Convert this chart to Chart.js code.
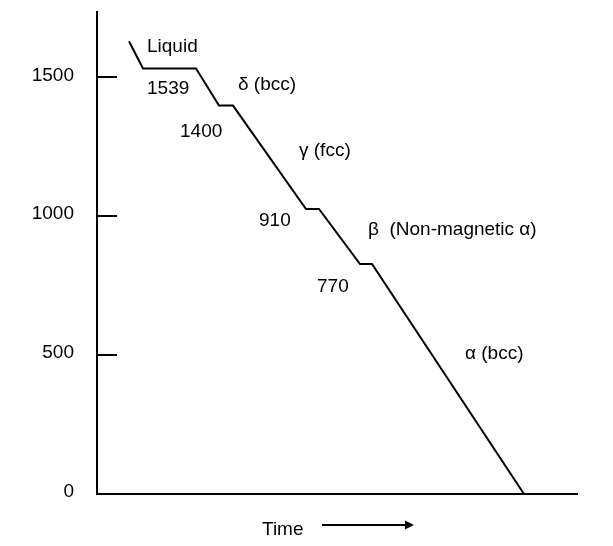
<!DOCTYPE html>
<html>
<head>
<meta charset="utf-8">
<title>Cooling curve of pure iron</title>
<script src="https://cdn.jsdelivr.net/npm/chart.js@4/dist/chart.umd.min.js"></script>
<style>
    html, body { margin: 0; padding: 0; background: #fff; }
    canvas { display: block; }
</style>
</head>
<body>
<canvas id="coolingChart" width="613" height="546"></canvas>
<script>
// Cooling curve (time in arbitrary units, temperature in °C)
const times = [32, 46, 99, 122, 136, 209, 222, 263, 275, 427];
const temps = [1630, 1532, 1532, 1398, 1398, 1026, 1026, 828, 828, 0];
const yTicks = [0, 500, 1000, 1500];

// Phase / arrest labels, anchored in data units (left edge, baseline)
const noteTexts = ['Liquid', '1539', 'δ (bcc)', '1400', 'γ (fcc)', '910', 'β  (Non-magnetic α)', '770', 'α (bcc)'];
const noteTimes = [50, 50, 141, 83, 202, 162, 271, 220, 368];
const noteTemps = [1590, 1440, 1454, 1286, 1217, 966, 934, 728, 485];

const FONT = "19px 'Liberation Sans', Arial, sans-serif";

Chart.defaults.font.family = "'Liberation Sans', Arial, sans-serif";
Chart.defaults.font.size = 19;
Chart.defaults.color = '#000';

// short tick marks pointing into the plot, plus the phase notes and the time arrow
const extrasPlugin = {
    id: 'extras',
    afterDraw(chart) {
        const { ctx, chartArea, scales } = chart;
        const xs = scales.x;
        const ys = scales.y;

        ctx.save();
        ctx.strokeStyle = '#000';
        ctx.lineWidth = 2;
        yTicks.forEach(v => {
            if (v === 0) return;
            const py = Math.round(ys.getPixelForValue(v));
            ctx.beginPath();
            ctx.moveTo(chartArea.left, py);
            ctx.lineTo(chartArea.left + 20, py);
            ctx.stroke();
        });

        ctx.fillStyle = '#000';
        ctx.font = FONT;
        ctx.textAlign = 'left';
        ctx.textBaseline = 'alphabetic';
        noteTexts.forEach((t, i) => {
            ctx.fillText(t, xs.getPixelForValue(noteTimes[i]), ys.getPixelForValue(noteTemps[i]));
        });

        // "Time ----->" under the axis
        ctx.fillText('Time', 262, 535);
        ctx.beginPath();
        ctx.moveTo(322, 525);
        ctx.lineTo(406, 525);
        ctx.stroke();
        ctx.beginPath();
        ctx.moveTo(414, 525);
        ctx.lineTo(405, 520.5);
        ctx.lineTo(405, 529.5);
        ctx.closePath();
        ctx.fill();
        ctx.restore();
    }
};

new Chart(document.getElementById('coolingChart'), {
    type: 'line',
    data: {
        datasets: [{
            data: times.map((t, i) => ({ x: t, y: temps[i] })),
            borderColor: '#000',
            borderWidth: 2,
            pointRadius: 0,
            tension: 0,
            fill: false
        }]
    },
    options: {
        responsive: false,
        animation: false,
        devicePixelRatio: 1,
        layout: { padding: { top: 12, right: 36, bottom: 0, left: 0 } },
        plugins: {
            legend: { display: false },
            tooltip: { enabled: false }
        },
        scales: {
            x: {
                type: 'linear',
                min: 0,
                max: 480,
                ticks: { display: false },
                grid: { drawOnChartArea: false, drawTicks: false },
                border: { color: '#000', width: 2 },
                afterFit: s => {
                    s.height = 52;
                    s.paddingLeft = 0;
                    s.paddingRight = 0;
                }
            },
            y: {
                type: 'linear',
                min: 0,
                max: 1735,
                afterBuildTicks: s => { s.ticks = yTicks.map(v => ({ value: v })); },
                ticks: {
                    padding: 23,
                    labelOffset: -2,
                    color: '#000',
                    font: { size: 19 },
                    callback: v => String(v)
                },
                grid: { drawOnChartArea: false, drawTicks: false },
                border: { color: '#000', width: 2 },
                afterFit: s => {
                    s.width = 97;
                    s.paddingTop = 0;
                    s.paddingBottom = 0;
                }
            }
        }
    },
    plugins: [extrasPlugin]
});
</script>
</body>
</html>
